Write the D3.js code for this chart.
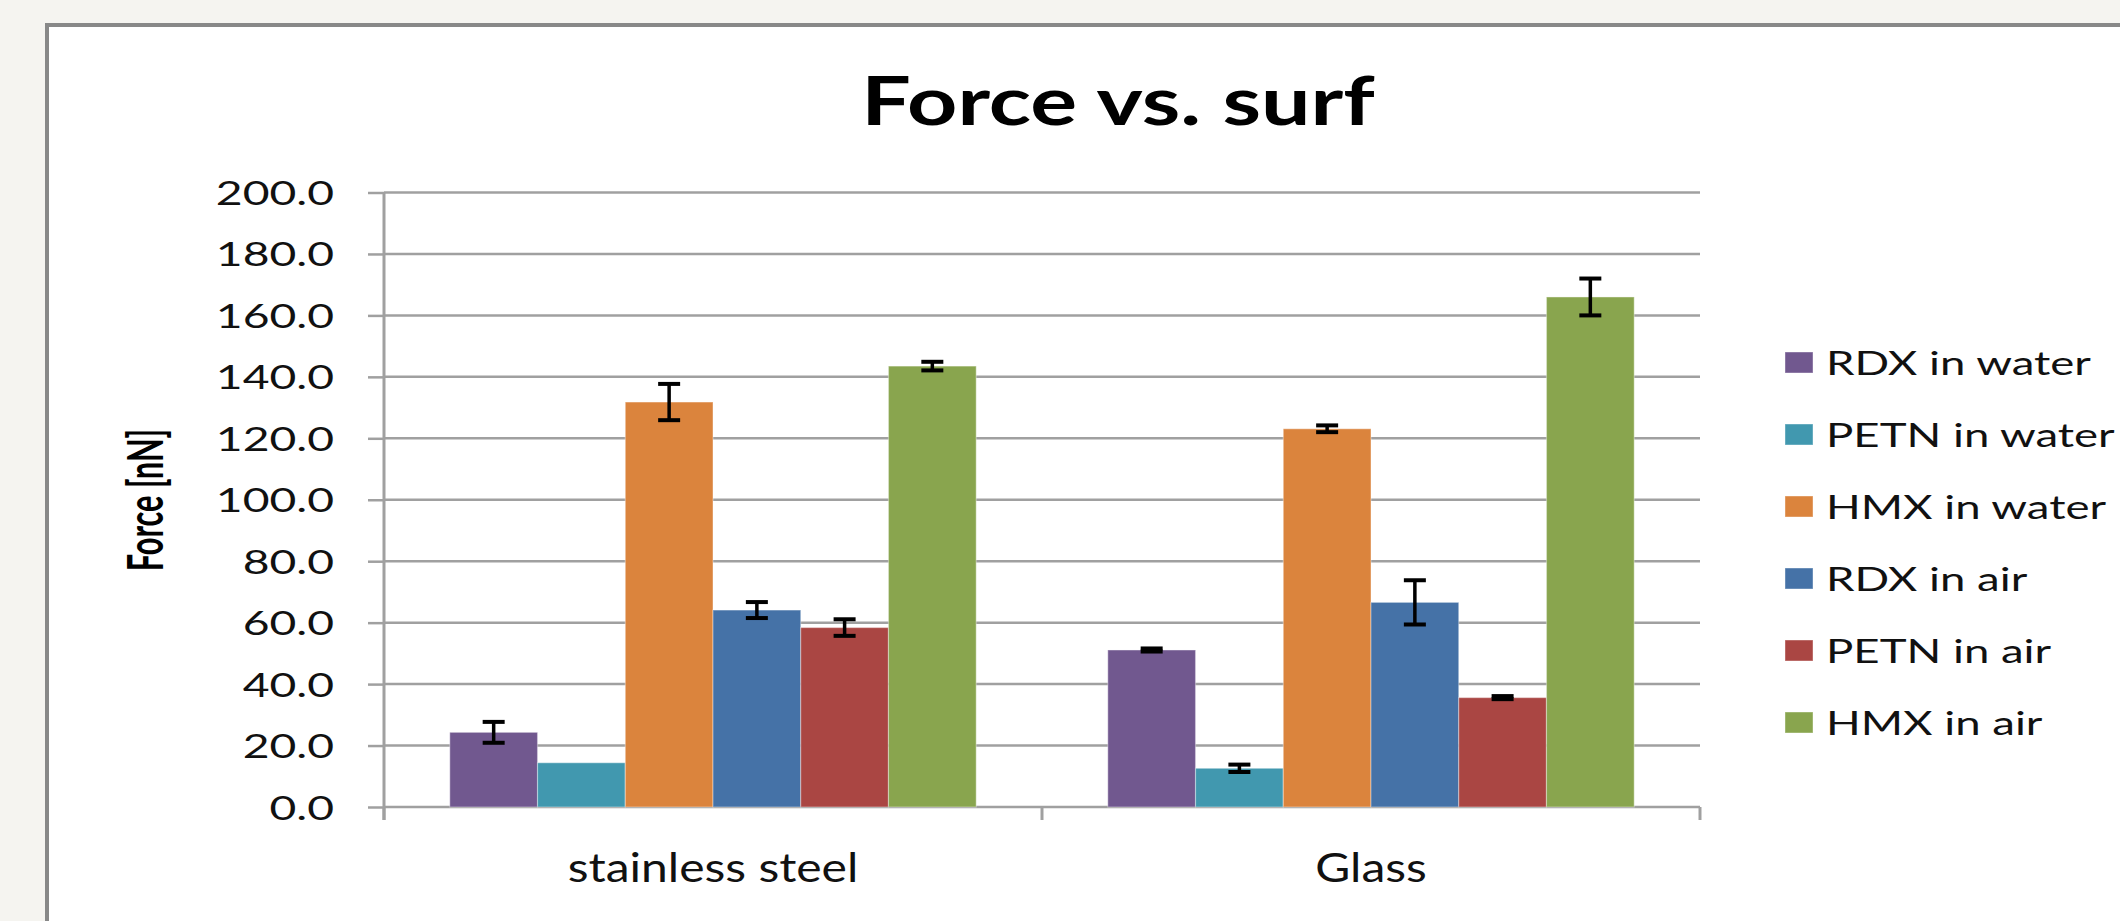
<!DOCTYPE html>
<html>
<head>
<meta charset="utf-8">
<script src="https://cdn.jsdelivr.net/npm/d3@7"></script>
<style>
  html, body { margin: 0; padding: 0; background: #f5f4f0; }
  svg { display: block; }
  text { font-family: Lato, "Open Sans", sans-serif; }
</style>
</head>
<body>
<svg id="chart" width="2120" height="921"></svg>
<script>
// ---- data ----
const categories = ["stainless steel", "Glass"];
const seriesNames = ["RDX in water", "PETN in water", "HMX in water", "RDX in air", "PETN in air", "HMX in air"];
const seriesColors = ["#71588F", "#4198AF", "#DB843D", "#4572A7", "#AA4643", "#89A54E"];
const steelValues = [24.3, 14.4, 131.8, 64.1, 58.4, 143.5];
const steelErrors = [3.4, 0, 5.9, 2.6, 2.7, 1.4];
const glassValues = [51.1, 12.6, 123.1, 66.6, 35.6, 166.0];
const glassErrors = [0.5, 1.2, 1.1, 7.2, 0.5, 6.0];
const yTicks = [0, 20, 40, 60, 80, 100, 120, 140, 160, 180, 200];
const titleText = "Force vs. surf";
const yTitleText = "Force [nN]";

const valuesByCat = [steelValues, glassValues];
const errorsByCat = [steelErrors, glassErrors];
const rows = [];
categories.forEach((c, ci) => {
  seriesNames.forEach((s, si) => {
    rows.push({cat: c, series: s, value: valuesByCat[ci][si], err: errorsByCat[ci][si], color: seriesColors[si]});
  });
});

// ---- layout ----
const svg = d3.select("#chart");
const plot = {left: 384, right: 1700, top: 192.5, bottom: 807};

svg.append("rect").attr("x", 0).attr("y", 0).attr("width", 2120).attr("height", 921).attr("fill", "#f5f4f0");
svg.append("rect").attr("x", 47).attr("y", 25).attr("width", 2300).attr("height", 1200)
  .attr("fill", "#ffffff").attr("stroke", "#888888").attr("stroke-width", 4);

const x0 = d3.scaleBand().domain(categories).range([plot.left, plot.right]).paddingInner(0).paddingOuter(0);
const x1 = d3.scaleBand().domain(seriesNames).range([0, x0.bandwidth()]).paddingInner(0).paddingOuter(0.75);
const y = d3.scaleLinear().domain([0, 200]).range([plot.bottom, plot.top]);
const color = d3.scaleOrdinal().domain(seriesNames).range(seriesColors);

const gridColor = "#a0a0a0";

// gridlines
svg.append("g").selectAll("line").data(yTicks.filter(t => t > 0)).join("line")
  .attr("x1", plot.left).attr("x2", plot.right)
  .attr("y1", d => y(d)).attr("y2", d => y(d))
  .attr("stroke", gridColor).attr("stroke-width", 2.5);

// y axis
const yAxis = d3.axisLeft(y).tickValues(yTicks).tickSize(16).tickPadding(0).tickFormat(d3.format(".1f"));
const gy = svg.append("g").attr("transform", `translate(${plot.left},0)`).call(yAxis);
gy.select(".domain").remove();
gy.selectAll(".tick line").attr("stroke", gridColor).attr("stroke-width", 2.5);
gy.selectAll(".tick text")
  .attr("x", null).attr("dy", null).attr("y", 12)
  .attr("text-anchor", "end")
  .attr("transform", "translate(-50,0) scale(1.38,1)")
  .attr("fill", "#111").style("font-size", "33.5px").style("font-family", "Lato, sans-serif");
svg.append("line").attr("x1", plot.left).attr("x2", plot.left).attr("y1", plot.top).attr("y2", plot.bottom + 13)
  .attr("stroke", gridColor).attr("stroke-width", 3);

// x axis
svg.append("line").attr("x1", plot.left).attr("x2", plot.right).attr("y1", plot.bottom).attr("y2", plot.bottom)
  .attr("stroke", gridColor).attr("stroke-width", 2.5);
const catEdges = [plot.left].concat(categories.map(c => x0(c) + x0.bandwidth()));
svg.append("g").selectAll("line").data(catEdges).join("line")
  .attr("x1", d => d).attr("x2", d => d).attr("y1", plot.bottom).attr("y2", plot.bottom + 13)
  .attr("stroke", gridColor).attr("stroke-width", 3);

// category labels
svg.append("g").selectAll("text").data(categories).join("text")
  .attr("transform", d => `translate(${x0(d) + x0.bandwidth() / 2},882) scale(1.2,1)`)
  .attr("text-anchor", "middle").attr("fill", "#111").style("font-size", "40px")
  .text(d => d);

// bars
svg.append("g").selectAll("rect").data(rows).join("rect")
  .attr("x", d => x0(d.cat) + x1(d.series))
  .attr("width", x1.bandwidth())
  .attr("y", d => y(d.value))
  .attr("height", d => y(0) - y(d.value))
  .attr("fill", d => color(d.series))
  .attr("stroke", "rgba(255,255,255,0.35)").attr("stroke-width", 1.2);

// error bars
const eb = svg.append("g").selectAll("g").data(rows.filter(d => d.err > 0)).join("g")
  .attr("transform", d => `translate(${x0(d.cat) + x1(d.series) + x1.bandwidth() / 2},0)`);
eb.append("line").attr("x1", 0).attr("x2", 0)
  .attr("y1", d => y(d.value + d.err)).attr("y2", d => y(d.value - d.err))
  .attr("stroke", "#000").attr("stroke-width", 3.5);
eb.append("line").attr("x1", -11).attr("x2", 11)
  .attr("y1", d => y(d.value + d.err)).attr("y2", d => y(d.value + d.err))
  .attr("stroke", "#000").attr("stroke-width", 4);
eb.append("line").attr("x1", -11).attr("x2", 11)
  .attr("y1", d => y(d.value - d.err)).attr("y2", d => y(d.value - d.err))
  .attr("stroke", "#000").attr("stroke-width", 4);

// title
svg.append("text").attr("transform", "translate(1118,125) scale(1.33,1)")
  .attr("text-anchor", "middle").style("font-size", "66px").style("font-weight", "bold")
  .attr("fill", "#000").text(titleText);

// y title
svg.append("text").attr("transform", "translate(163,500) scale(1.4,1) rotate(-90) scale(0.88,1)")
  .attr("text-anchor", "middle").style("font-size", "35px").style("font-weight", "bold")
  .attr("fill", "#000").text(yTitleText);

// legend
const legendRowY = d3.scalePoint().domain(seriesNames).range([362.5, 722.5]);
const lg = svg.append("g").selectAll("g").data(seriesNames).join("g")
  .attr("transform", d => `translate(0,${legendRowY(d)})`);
lg.append("rect").attr("x", 1785).attr("y", -10.5).attr("width", 28).attr("height", 21)
  .attr("fill", d => color(d)).attr("stroke", "rgba(255,255,255,0.4)").attr("stroke-width", 1);
lg.append("text").attr("transform", "translate(1826,12) scale(1.36,1)")
  .attr("fill", "#111").style("font-size", "33.5px").text(d => d);
</script>
</body>
</html>
